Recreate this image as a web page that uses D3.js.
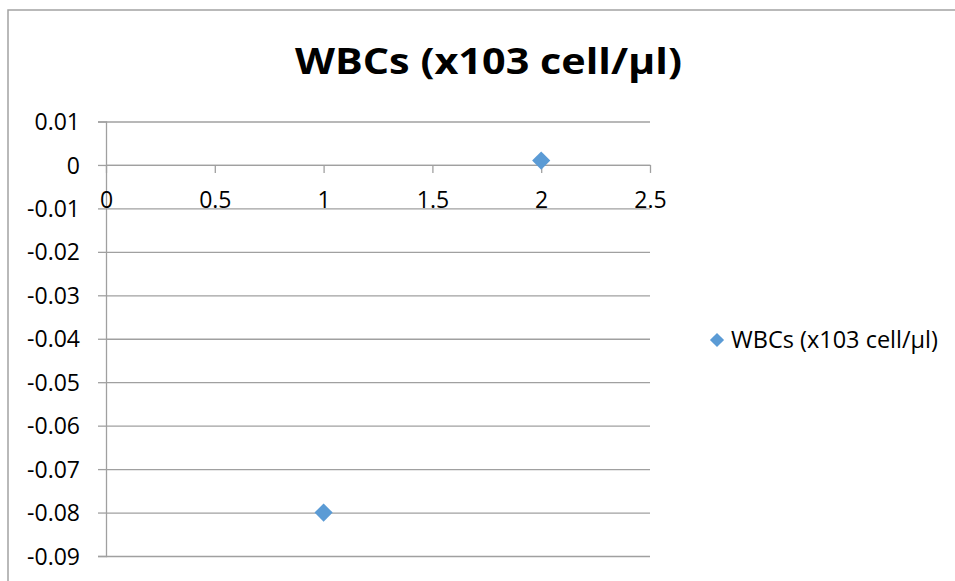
<!DOCTYPE html>
<html>
<head>
<meta charset="utf-8">
<script src="https://cdn.jsdelivr.net/npm/d3@7"></script>
<style>
  html, body { margin: 0; background: #fff; overflow: hidden; }
  svg { display: block; font-family: "Open Sans", sans-serif; }
</style>
</head>
<body>
<svg id="chart" width="955" height="581"></svg>
<script>
// data
const seriesName = "WBCs (x103 cell/\u03bcl)";
const xValues = [1, 2];
const yValues = [-0.08, 0.001];
const xTicks = [0, 0.5, 1, 1.5, 2, 2.5];
const yTicks = [0.01, 0, -0.01, -0.02, -0.03, -0.04, -0.05, -0.06, -0.07, -0.08, -0.09];

const svg = d3.select("#chart");
const blue = "#5b9bd5", grid = "#a0a0a0";

// outer frame, only left and top edges show
svg.append("path")
    .attr("d", "M8,600V10H960")
    .attr("fill", "none").attr("stroke", "#a3a3a3").attr("stroke-width", 1.5);

let x = d3.scaleLinear().domain([0, 2.5]).range([106, 650]),
    y = d3.scaleLinear().domain([-0.09, 0.01]).range([556, 121.5]);

// title
svg.append("text")
    .attr("x", 488.5).attr("y", 73.5)
    .attr("text-anchor", "middle")
    .attr("font-size", 36).attr("font-weight", "bold")
    .attr("textLength", 387).attr("lengthAdjust", "spacingAndGlyphs")
    .text(seriesName);

// horizontal gridlines
svg.append("g")
    .attr("transform", "translate(" + x(0) + ",0)")
    .call(d3.axisLeft(y).tickValues(yTicks).tickSize(-(x(2.5) - x(0))).tickFormat(""))
    .call(g => g.select(".domain").remove())
    .call(g => g.selectAll("line").attr("stroke", grid).attr("stroke-width", 1.3));

// y axis
let yAxis = d3.axisLeft(y).tickValues(yTicks).tickSize(8).tickPadding(18)
    .tickFormat(d => String(+d.toFixed(2)));
svg.append("g")
    .attr("transform", "translate(" + x(0) + ",0)")
    .call(yAxis)
    .call(g => g.selectAll("path, line").attr("stroke", grid).attr("stroke-width", 1.3))
    .call(g => g.selectAll("text").attr("font-size", 23).attr("fill", "#000")
        .attr("font-family", "Open Sans").attr("dy", "0.35em"));

// x axis crossing at y = 0
let xAxis = d3.axisBottom(x).tickValues(xTicks).tickSize(8).tickSizeOuter(0)
    .tickFormat(d => String(d));
svg.append("g")
    .attr("transform", "translate(0," + y(0) + ")")
    .call(xAxis)
    .call(g => g.selectAll("path, line").attr("stroke", grid).attr("stroke-width", 1.3))
    .call(g => g.selectAll("text").attr("font-size", 23).attr("fill", "#000")
        .attr("font-family", "Open Sans").attr("y", 43).attr("dy", null));

// points
let pts = xValues.map((v, i) => ({x: v, y: yValues[i]}));
svg.append("g").selectAll("path")
    .data(pts)
    .join("path")
    .attr("d", d3.symbol(d3.symbolSquare, 165))
    .attr("transform", d => "translate(" + x(d.x) + "," + y(d.y) + ") rotate(45)")
    .attr("fill", blue);

// legend
let legend = svg.append("g").attr("transform", "translate(717,340)");
legend.append("path")
    .attr("d", d3.symbol(d3.symbolSquare, 100))
    .attr("transform", "rotate(45)")
    .attr("fill", blue);
legend.append("text")
    .attr("x", 14).attr("dy", "0.35em")
    .attr("font-size", 23)
    .attr("textLength", 207).attr("lengthAdjust", "spacingAndGlyphs")
    .text(seriesName);
</script>
</body>
</html>
